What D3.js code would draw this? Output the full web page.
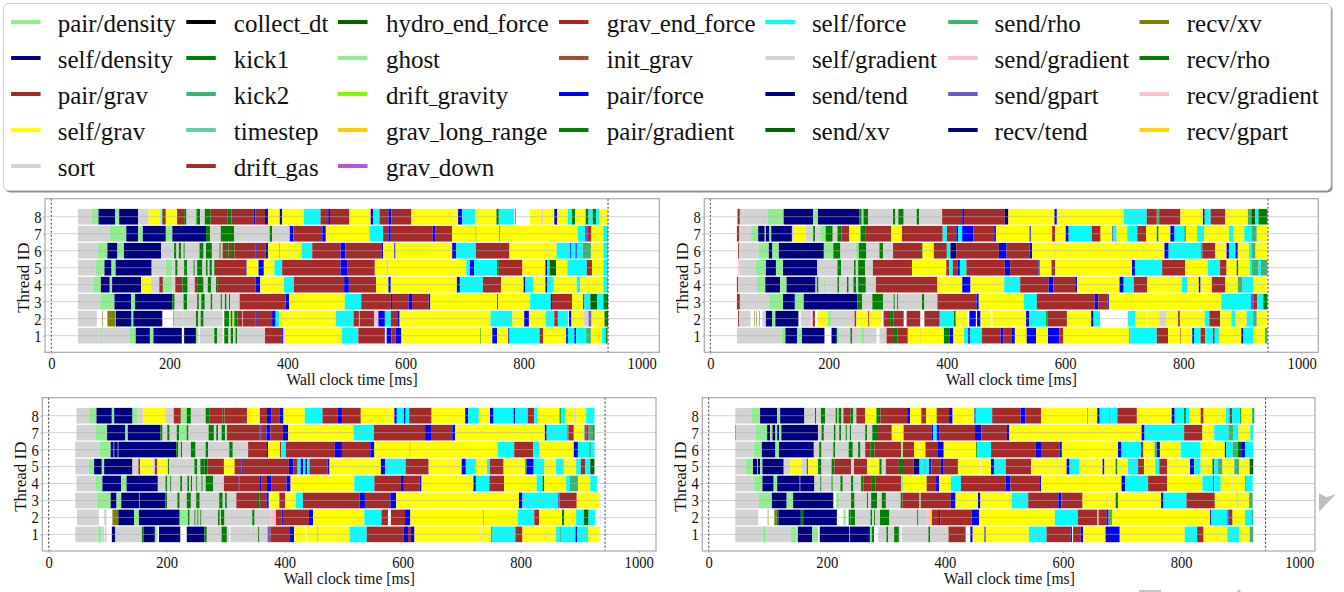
<!DOCTYPE html>
<html>
<head>
<meta charset="utf-8">
<script src="https://cdn.jsdelivr.net/npm/d3@7"></script>
<style>
  body { margin: 0; background: #fff; }
  text { font-family: "Liberation Serif", serif; fill: #111; }
</style>
</head>
<body>
<div id="chart"></div>
<script>
// legend, column by column
var taskNames = ["pair/density","self/density","pair/grav","self/grav","sort",
  "collect_dt","kick1","kick2","timestep","drift_gas",
  "hydro_end_force","ghost","drift_gravity","grav_long_range","grav_down",
  "grav_end_force","init_grav","pair/force","pair/gradient",
  "self/force","self/gradient","send/tend","send/xv",
  "send/rho","send/gradient","send/gpart","recv/tend",
  "recv/xv","recv/rho","recv/gradient","recv/gpart"];
var taskColors = ["#90ee90","#000080","#a52a2a","#ffff00","#d3d3d3",
  "#000000","#008000","#3cb371","#66cdaa","#a52a2a",
  "#006400","#90ee90","#7cfc00","#ffcc00","#ba55d3",
  "#b22222","#a0522d","#0000ff","#008000",
  "#00ffff","#d3d3d3","#000080","#006400",
  "#3cb371","#ffc0cb","#6a5acd","#000080",
  "#808000","#008000","#ffc0cb","#ffd700"];
var columnSizes = [5,5,5,4,4,4,4];

// short codes used in the thread rows below
var codes = {g:"sort",l:"pair/density",n:"self/density",t:"kick1",d:"send/xv",b:"pair/grav",y:"self/grav",
  c:"self/force",u:"pair/force",o:"recv/gpart",s:"kick2",p:"send/gradient",m:"send/gpart",k:"recv/xv"};

var threadIds = [1,2,3,4,5,6,7,8];
var xTicks = [0,200,400,600,800,1000];
var stepEnd = 943;

// each row: time, task, time, task ... last time. w = nothing running
// top left
var tl1 = [45,'g',84,'l',87,'g',132,'l',143,'n',167,'l',173,'n',221,'w',225,'n',245,'l',249,'w',252,'g',276,'t',281,'g',290,'w',292,'g',293,'t',300,'g',304,'t',308,'g',312,'t',315,'g',342,'l',344,'g',362,'b',391,'u',393,'p',396,'y',492,'c',520,'b',565,'w',568,'u',576,'b',583,'u',593,'y',727,'t',728,'y',747,'u',755,'y',774,'u',776,'c',827,'b',833,'y',872,'u',875,'c',886,'u',889,'c',906,'s',914,'y',933,'c',939,'t',942];
var tl2 = [45,'g',77,'w',86,'k',87,'w',95,'k',108,'w',109,'n',136,'l',139,'n',188,'w',207,'t',208,'g',224,'l',226,'g',245,'t',249,'g',253,'t',258,'g',290,'w',293,'t',301,'l',304,'t',307,'o',310,'t',315,'b',323,'w',324,'b',346,'u',348,'b',374,'u',380,'c',386,'y',482,'c',512,'b',521,'w',522,'b',547,'p',554,'u',565,'c',575,'b',586,'u',590,'y',744,'c',781,'y',801,'u',809,'y',837,'c',852,'b',858,'c',875,'w',877,'u',881,'y',901,'g',910,'m',915,'y',937,'t',943];
var tl3 = [45,'g',83,'l',107,'n',135,'l',142,'n',205,'t',209,'g',224,'t',230,'g',247,'t',250,'g',254,'t',260,'g',270,'t',273,'g',287,'t',289,'g',294,'t',297,'g',301,'t',303,'g',319,'b',397,'u',403,'y',497,'c',525,'b',575,'u',577,'b',605,'u',611,'b',639,'u',642,'y',755,'t',757,'y',811,'c',846,'u',848,'b',882,'y',901,'u',903,'c',913,'d',925,'c',935,'t',943];
var tl4 = [45,'g',71,'l',84,'n',99,'l',103,'n',152,'y',169,'g',183,'b',189,'l',205,'g',210,'b',222,'t',231,'g',243,'b',247,'t',258,'g',265,'t',271,'g',279,'t',282,'b',346,'u',354,'y',394,'c',411,'b',496,'u',504,'b',550,'y',571,'u',575,'y',687,'u',692,'c',731,'b',762,'y',800,'u',803,'c',816,'y',837,'u',840,'c',851,'y',890,'c',896,'y',935,'c',943];
var tl5 = [45,'g',75,'l',90,'n',102,'l',109,'n',170,'g',194,'l',205,'g',210,'t',214,'g',225,'t',230,'g',241,'t',243,'g',247,'t',256,'g',262,'t',265,'g',268,'t',272,'g',276,'t',279,'b',330,'u',331,'y',351,'u',360,'y',378,'c',391,'b',490,'u',501,'b',548,'y',568,'o',571,'y',703,'c',709,'u',716,'c',755,'t',758,'b',798,'y',837,'u',840,'c',844,'d',855,'y',874,'c',907,'b',916,'y',935,'c',943];
var tl6 = [45,'g',79,'l',95,'n',112,'l',123,'n',186,'g',208,'t',212,'g',216,'t',220,'g',224,'t',226,'g',251,'t',258,'g',262,'t',272,'g',285,'t',287,'g',290,'b',296,'t',300,'b',306,'t',310,'b',346,'u',348,'b',363,'u',367,'y',386,'k',387,'y',424,'c',442,'b',490,'u',498,'b',559,'u',562,'y',581,'u',583,'y',679,'u',686,'c',719,'b',776,'y',856,'c',879,'u',881,'c',888,'u',890,'c',900,'s',914,'y',935,'c',943];
var tl7 = [45,'g',99,'l',127,'n',147,'l',155,'n',194,'l',205,'n',262,'t',269,'g',287,'t',310,'g',370,'t',374,'g',404,'u',410,'b',459,'u',465,'y',539,'c',562,'b',571,'u',575,'b',646,'u',651,'b',679,'y',719,'t',720,'y',759,'t',760,'y',892,'c',904,'m',909,'b',915,'y',935,'c',943];
var tl8 = [45,'g',68,'l',80,'n',108,'l',115,'n',147,'g',165,'y',183,'g',188,'t',191,'b',194,'y',213,'b',225,'t',229,'g',243,'l',246,'t',252,'g',260,'t',270,'b',299,'t',305,'b',343,'u',346,'b',362,'u',367,'y',387,'u',391,'y',428,'c',456,'b',469,'u',472,'b',505,'y',541,'u',545,'c',556,'b',571,'u',576,'b',610,'y',689,'u',696,'c',718,'y',754,'t',758,'c',784,'w',786,'t',787,'w',811,'y',830,'p',833,'y',852,'u',857,'y',875,'c',882,'t',887,'y',905,'t',910,'c',917,'t',923,'c',928,'y',943];
// top right
var tr1 = [45,'g',121,'l',127,'n',147,'l',155,'n',193,'w',205,'n',214,'l',218,'g',237,'t',240,'g',254,'l',260,'g',281,'w',286,'g',298,'b',309,'t',316,'b',334,'y',355,'o',357,'y',395,'t',405,'u',411,'y',429,'c',436,'u',439,'c',459,'b',491,'u',496,'b',510,'u',515,'y',535,'u',551,'y',571,'u',590,'b',597,'y',709,'u',710,'c',755,'b',774,'y',795,'b',796,'y',815,'u',818,'c',829,'b',837,'c',850,'b',853,'c',860,'y',898,'u',901,'c',918,'y',938,'s',942];
var tr2 = [47,'b',49,'g',68,'w',74,'k',75,'w',78,'k',79,'w',83,'k',84,'w',88,'g',94,'n',105,'l',110,'n',149,'w',153,'g',171,'w',173,'b',177,'w',181,'y',199,'l',204,'g',244,'b',247,'y',267,'b',269,'y',289,'w',293,'b',304,'t',310,'b',327,'w',332,'b',355,'w',362,'b',388,'c',412,'t',415,'y',434,'w',438,'u',449,'w',451,'u',457,'y',474,'w',477,'y',534,'u',539,'c',568,'t',570,'b',603,'y',644,'u',648,'c',659,'w',706,'c',719,'y',738,'w',740,'y',759,'g',771,'y',791,'b',794,'y',836,'c',844,'b',862,'y',881,'c',888,'y',907,'c',918,'s',924,'y',942];
var tr3 = [45,'b',50,'g',99,'l',123,'n',143,'l',158,'n',249,'t',257,'g',274,'t',292,'g',310,'t',312,'g',316,'t',318,'g',358,'t',362,'g',384,'b',450,'u',454,'y',530,'c',552,'b',650,'u',656,'b',672,'u',674,'y',864,'c',914,'m',918,'b',925,'c',935,'t',942];
var tr4 = [45,'b',47,'g',79,'l',93,'n',118,'l',129,'n',178,'g',180,'t',183,'g',192,'l',195,'g',215,'t',218,'g',231,'t',234,'g',242,'t',247,'g',250,'t',263,'g',280,'b',384,'y',426,'u',440,'y',497,'c',524,'b',572,'u',580,'b',617,'u',620,'y',692,'u',699,'c',716,'b',739,'y',797,'c',807,'y',826,'u',829,'y',848,'b',871,'y',892,'s',900,'c',918,'y',941];
var tr5 = [47,'p',49,'g',77,'l',94,'n',111,'l',123,'n',181,'g',215,'t',221,'g',243,'t',246,'g',250,'t',262,'g',275,'b',341,'y',399,'b',404,'c',410,'b',418,'u',422,'c',433,'b',498,'u',507,'b',555,'u',557,'y',577,'b',583,'y',713,'u',718,'c',764,'b',803,'y',841,'c',862,'b',873,'y',890,'t',893,'y',912,'c',916,'s',927,'c',931,'s',942];
var tr6 = [47,'b',49,'g',82,'l',99,'n',105,'l',116,'n',192,'l',208,'t',220,'g',246,'l',251,'t',264,'g',286,'t',292,'g',309,'b',358,'t',359,'y',378,'b',400,'c',406,'n',416,'b',488,'u',501,'b',540,'u',544,'y',582,'o',584,'y',752,'o',753,'y',768,'u',775,'c',830,'m',832,'b',854,'y',873,'u',877,'c',888,'u',892,'y',911,'c',916,'s',922,'y',942];
var tr7 = [45,'b',49,'g',69,'l',81,'n',92,'l',94,'n',100,'l',103,'n',138,'g',142,'y',161,'g',174,'t',177,'g',186,'l',195,'t',207,'g',215,'t',222,'b',235,'y',254,'t',263,'b',306,'y',324,'b',393,'c',400,'b',416,'u',419,'c',426,'u',445,'b',480,'u',483,'y',540,'u',542,'y',578,'b',583,'y',601,'u',606,'c',645,'b',660,'y',680,'u',681,'c',687,'y',705,'c',722,'b',737,'y',755,'t',758,'y',778,'u',785,'c',802,'t',804,'y',823,'c',835,'y',877,'c',884,'y',903,'c',915,'s',924,'y',942];
var tr8 = [46,'b',50,'g',97,'l',124,'n',174,'l',182,'n',252,'t',256,'l',259,'t',267,'g',309,'t',313,'g',318,'t',327,'g',349,'t',353,'g',392,'b',426,'u',429,'b',498,'n',504,'y',582,'u',586,'y',699,'c',738,'b',755,'s',759,'b',795,'y',833,'u',836,'c',846,'b',871,'y',909,'s',915,'d',921,'c',927,'t',942];
// bottom left
var bl1 = [45,'g',83,'l',89,'g',94,'w',95,'g',98,'w',107,'n',113,'g',158,'t',161,'n',180,'l',184,'w',187,'n',223,'w',234,'n',264,'t',268,'g',293,'t',302,'g',306,'w',308,'g',340,'l',342,'g',355,'t',357,'g',371,'m',376,'b',409,'u',416,'y',435,'w',437,'y',456,'k',457,'y',510,'c',539,'b',602,'u',609,'b',614,'u',620,'y',732,'g',733,'y',750,'u',751,'c',791,'b',803,'y',860,'c',867,'t',868,'c',893,'u',896,'c',914,'y',934];
var bl2 = [48,'g',85,'w',94,'g',98,'w',108,'k',118,'n',145,'l',153,'n',222,'l',236,'t',239,'g',247,'t',249,'g',252,'t',254,'g',257,'t',259,'g',287,'t',290,'g',292,'t',298,'g',345,'t',349,'g',376,'p',385,'b',395,'u',397,'b',441,'u',448,'y',535,'c',564,'b',575,'w',580,'b',604,'u',613,'y',737,'k',738,'y',795,'c',823,'b',831,'y',870,'t',874,'y',894,'c',907,'d',915,'c',926,'w',934,'l',935];
var bl3 = [45,'g',81,'l',105,'n',115,'l',123,'n',153,'l',154,'n',198,'t',201,'g',218,'t',222,'g',234,'t',241,'g',250,'t',256,'g',289,'t',295,'g',299,'t',302,'g',318,'b',353,'t',357,'b',369,'u',373,'y',391,'b',401,'y',419,'c',431,'b',527,'u',536,'b',579,'u',589,'y',797,'u',803,'c',863,'m',866,'b',895,'y',934];
var bl4 = [47,'g',79,'l',91,'n',123,'l',132,'n',185,'g',198,'t',201,'g',206,'t',208,'g',223,'t',226,'g',235,'t',238,'g',241,'t',243,'g',250,'t',252,'g',259,'t',261,'g',266,'t',279,'g',297,'b',322,'n',323,'b',357,'u',361,'b',370,'u',377,'b',403,'u',410,'y',518,'c',552,'b',597,'u',602,'b',629,'u',632,'y',720,'u',724,'c',747,'b',772,'y',827,'c',837,'t',840,'y',877,'c',883,'s',897,'y',918,'c',929];
var bl5 = [45,'g',68,'l',77,'n',90,'l',94,'n',142,'g',152,'b',155,'y',176,'g',180,'b',184,'y',202,'t',204,'g',247,'t',252,'g',257,'t',264,'d',269,'b',297,'y',315,'b',327,'u',329,'b',407,'u',415,'b',422,'c',427,'u',431,'c',435,'u',438,'c',442,'b',473,'u',476,'y',563,'u',570,'c',605,'b',644,'y',700,'u',707,'c',724,'y',743,'c',748,'b',771,'y',808,'t',810,'u',822,'c',840,'y',860,'c',873,'y',894,'c',902,'b',909,'c',918,'d',925];
var bl6 = [45,'g',87,'l',105,'n',110,'w',111,'n',117,'w',118,'n',216,'t',220,'g',224,'t',226,'g',241,'t',249,'g',266,'t',270,'g',306,'t',312,'g',338,'b',370,'u',372,'y',392,'b',394,'c',402,'b',485,'u',497,'b',545,'u',552,'y',612,'k',613,'y',761,'c',789,'b',821,'c',832,'y',890,'u',897,'c',916,'s',919,'c',925];
var bl7 = [47,'g',79,'l',99,'n',130,'l',134,'n',189,'t',193,'g',201,'t',205,'g',217,'t',221,'l',234,'t',237,'g',271,'t',280,'g',284,'t',287,'g',293,'t',299,'g',302,'b',358,'m',360,'b',369,'u',376,'b',397,'u',406,'y',517,'c',551,'b',638,'u',648,'b',684,'u',689,'y',841,'u',844,'c',879,'m',881,'b',890,'y',908,'m',911,'b',915,'s',923,'d',925];
var bl8 = [47,'g',68,'l',81,'n',107,'l',111,'n',142,'l',151,'g',160,'y',197,'g',212,'b',224,'l',234,'t',241,'g',266,'t',272,'b',295,'t',298,'b',336,'y',356,'g',358,'b',370,'u',377,'b',391,'u',398,'y',434,'c',464,'b',490,'u',497,'b',529,'y',586,'u',590,'c',602,'u',605,'c',611,'b',649,'y',706,'u',711,'c',729,'y',748,'u',754,'c',788,'u',791,'c',812,'b',823,'c',829,'y',866,'t',868,'c',875,'y',891,'g',894,'y',911,'c',925];
// bottom right
var br1 = [45,'g',91,'l',98,'g',139,'l',149,'g',151,'n',175,'l',185,'w',188,'n',238,'w',239,'n',273,'l',276,'t',280,'w',287,'g',301,'t',304,'g',314,'t',322,'g',325,'w',327,'g',372,'t',375,'g',406,'b',435,'w',443,'u',447,'y',467,'u',469,'y',542,'c',572,'b',613,'u',615,'w',617,'b',630,'u',634,'y',672,'u',696,'y',806,'c',827,'b',838,'y',878,'c',898,'y',916,'s',922];
var br2 = [45,'g',84,'w',100,'k',101,'w',111,'k',115,'t',118,'n',156,'t',160,'n',217,'w',228,'l',232,'w',237,'t',240,'t',248,'g',274,'t',277,'g',280,'t',282,'g',290,'t',306,'g',353,'t',355,'g',370,'p',375,'o',378,'b',390,'u',392,'b',445,'u',458,'y',586,'c',625,'b',658,'w',660,'b',674,'u',677,'s',683,'y',849,'u',851,'c',878,'m',881,'b',887,'y',908,'c',919,'s',922];
var br3 = [45,'g',85,'l',107,'n',132,'l',143,'n',211,'w',216,'l',221,'g',241,'t',247,'g',268,'t',270,'g',275,'t',285,'g',293,'t',300,'g',325,'t',328,'b',357,'l',359,'b',410,'u',418,'y',456,'u',460,'y',513,'c',541,'b',592,'u',597,'b',633,'y',689,'t',693,'y',766,'u',770,'c',809,'b',857,'y',894,'l',896,'y',915,'s',921];
var br4 = [45,'g',77,'l',91,'n',110,'l',116,'n',154,'w',155,'n',179,'g',189,'t',191,'g',208,'t',210,'g',223,'t',227,'g',241,'t',245,'g',258,'t',262,'b',275,'t',282,'b',326,'l',329,'y',369,'b',385,'u',390,'y',410,'c',427,'b',503,'u',511,'b',561,'u',563,'y',699,'u',705,'c',744,'b',776,'y',836,'c',854,'b',856,'c',867,'y',887,'g',889,'y',908,'u',909,'c',921];
var br5 = [45,'g',63,'l',75,'n',82,'w',83,'n',87,'l',91,'n',127,'g',138,'y',157,'g',166,'t',168,'y',185,'t',191,'g',208,'t',213,'b',241,'g',246,'b',268,'y',289,'t',293,'g',300,'b',322,'t',329,'b',347,'n',357,'c',366,'u',367,'c',373,'u',377,'b',393,'u',398,'b',422,'y',460,'w',461,'y',478,'u',483,'c',503,'b',546,'y',606,'u',611,'c',628,'y',667,'u',670,'y',689,'t',692,'y',710,'c',727,'b',737,'y',756,'c',763,'b',776,'y',815,'u',822,'c',833,'y',853,'t',856,'c',862,'s',870,'y',890,'s',898,'y',916,'d',922];
var br6 = [45,'g',76,'l',90,'n',113,'l',119,'n',178,'g',187,'t',191,'g',211,'t',214,'g',237,'t',244,'g',253,'t',257,'g',265,'b',274,'t',281,'b',326,'l',329,'b',348,'y',367,'b',387,'u',398,'y',453,'t',455,'c',478,'b',554,'u',564,'b',594,'u',598,'y',693,'u',699,'c',732,'b',736,'y',755,'s',759,'u',764,'y',799,'c',833,'y',874,'u',876,'c',887,'s',896,'d',903,'u',908,'c',922];
var br7 = [45,'b',46,'g',79,'l',99,'n',104,'l',108,'n',113,'l',116,'n',119,'l',123,'n',185,'g',191,'t',195,'g',212,'t',215,'g',221,'t',224,'g',232,'t',234,'g',239,'t',241,'g',265,'t',268,'g',277,'t',285,'b',310,'y',330,'b',377,'u',380,'c',386,'u',390,'b',451,'u',462,'b',505,'u',509,'y',733,'u',738,'c',805,'b',836,'y',856,'c',880,'s',888,'c',897,'y',917,'c',922];
var br8 = [45,'g',72,'l',87,'n',116,'l',121,'n',162,'g',180,'t',182,'g',190,'t',197,'g',215,'t',218,'g',220,'t',225,'g',228,'b',240,'t',245,'g',250,'b',265,'y',284,'t',291,'b',336,'u',341,'y',360,'b',368,'y',386,'b',407,'u',413,'y',450,'u',452,'c',480,'b',528,'u',536,'b',563,'y',641,'b',642,'y',658,'u',662,'c',678,'t',679,'c',692,'b',725,'y',784,'u',789,'c',805,'t',808,'c',814,'y',833,'b',838,'y',876,'c',882,'b',886,'c',900,'t',902,'y',920,'s',924];

var panels = [
  {rows:[tl1,tl2,tl3,tl4,tl5,tl6,tl7,tl8], left:45, right:659.3, top:198.7, bottom:352.3, x0:51.3, x1000:641.7},
  {rows:[tr1,tr2,tr3,tr4,tr5,tr6,tr7,tr8], left:704.3, right:1318.3, top:198.7, bottom:352.3, x0:710.3, x1000:1301.7},
  {rows:[bl1,bl2,bl3,bl4,bl5,bl6,bl7,bl8], left:42.3, right:656, top:397.7, bottom:551, x0:48.7, x1000:638.7},
  {rows:[br1,br2,br3,br4,br5,br6,br7,br8], left:702.3, right:1315, top:397.7, bottom:551, x0:708.7, x1000:1299.3}
];

var svg = d3.select("#chart").append("svg")
  .attr("width", 1344)
  .attr("height", 592)
  .style("display", "block");

var colorOf = d3.scaleOrdinal().domain(taskNames).range(taskColors);

function drawLegend() {
  svg.append("rect").attr("x", 5).attr("y", 5.5).attr("width", 1327.5).attr("height", 187)
    .attr("rx", 5).attr("fill", "#8c8c8c");
  svg.append("rect").attr("x", 3.5).attr("y", 3.5).attr("width", 1327.5).attr("height", 187)
    .attr("rx", 5).attr("fill", "#fff").attr("stroke", "#d0d0d0");

  var lineX = [11.1,186.3,338,559,765.4,948.2,1139.5];
  var textX = [57.7,233.8,385.9,606.8,811.9,994.6,1186.8];
  var rowY = d3.scaleLinear().domain([0,4]).range([22,166]);
  var start = 0;
  columnSizes.forEach(function(size, col) {
    for (var r = 0; r < size; r++) {
      var name = taskNames[start + r];
      svg.append("line")
        .attr("x1", lineX[col]).attr("x2", lineX[col] + 29.5)
        .attr("y1", rowY(r)).attr("y2", rowY(r))
        .attr("stroke", colorOf(name)).attr("stroke-width", 4);
      var label = svg.append("text")
        .attr("x", textX[col]).attr("y", rowY(r) + 10)
        .style("font-size", "25px");
      // underscores are narrower in the original, like in LaTeX
      name.split(/(_)/).forEach(function(part) {
        label.append("tspan").style("font-size", part === "_" ? "17px" : null).text(part);
      });
    }
    start += size;
  });
}

function drawPanel(p) {
  // pixel position of 0 and 1000 fixes the axis domain
  var perMs = (p.x1000 - p.x0) / 1000;
  var x = d3.scaleLinear()
    .domain([(p.left - p.x0) / perMs, (p.right - p.x0) / perMs])
    .range([p.left, p.right]);
  var y = d3.scaleLinear().domain([0.02, 9.06]).range([p.bottom, p.top]);
  var g = svg.append("g");

  threadIds.forEach(function(id, i) {
    var row = p.rows[i];
    var segs = [];
    for (var k = 0; k + 2 < row.length; k += 2) {
      if (row[k + 1] !== 'w') segs.push({start: row[k], end: row[k + 2], task: codes[row[k + 1]]});
    }
    g.selectAll(null).data(segs).enter().append("rect")
      .attr("x", function(d) { return x(d.start); })
      .attr("width", function(d) { return x(d.end) - x(d.start); })
      .attr("y", y(id + 0.46))
      .attr("height", y(id - 0.46) - y(id + 0.46))
      .attr("fill", function(d) { return colorOf(d.task); });
  });

  g.selectAll(null).data(threadIds).enter().append("line")
    .attr("x1", p.left).attr("x2", p.right)
    .attr("y1", function(d) { return y(d); })
    .attr("y2", function(d) { return y(d); })
    .attr("stroke", "#b0b0b0").attr("stroke-opacity", 0.55);

  g.append("line")
    .attr("x1", x(stepEnd)).attr("x2", x(stepEnd))
    .attr("y1", p.top).attr("y2", p.bottom)
    .attr("stroke", "#333").attr("stroke-dasharray", "2,2");
  g.append("line")
    .attr("x1", x(0)).attr("x2", x(0))
    .attr("y1", p.top).attr("y2", p.bottom)
    .attr("stroke", "#333").attr("stroke-dasharray", "2,2");

  g.append("rect")
    .attr("x", p.left).attr("y", p.top)
    .attr("width", p.right - p.left).attr("height", p.bottom - p.top)
    .attr("fill", "none").attr("stroke", "#a8a8a8").attr("stroke-width", 1.2);

  var xAxis = g.append("g")
    .attr("transform", "translate(0," + p.bottom + ")")
    .call(d3.axisBottom(x).tickValues(xTicks).tickFormat(d3.format("d")).tickSize(2).tickPadding(3));
  var yAxis = g.append("g")
    .attr("transform", "translate(" + p.left + ",0)")
    .call(d3.axisLeft(y).tickValues(threadIds).tickFormat(d3.format("d")).tickSize(2).tickPadding(2));
  [xAxis, yAxis].forEach(function(a) {
    a.select(".domain").remove();
    a.selectAll(".tick line").attr("stroke", "#a8a8a8");
    a.attr("font-family", null).attr("font-size", null);
    a.selectAll("text").style("font-size", "17px").attr("transform", "scale(0.86,1)").attr("fill", "#111");
  });

  g.append("text")
    .attr("transform", "translate(" + (p.left + 307) + "," + (p.bottom + 32.5) + ") scale(0.92,1)")
    .attr("text-anchor", "middle").style("font-size", "17px")
    .text("Wall clock time [ms]");
  g.append("text")
    .attr("transform", "translate(" + (p.left - 16) + "," + (p.top + 79) + ") rotate(-90)")
    .attr("text-anchor", "middle").style("font-size", "17px")
    .text("Thread ID");
}

drawLegend();
panels.forEach(drawPanel);

// bits of the next slide showing at the edge of the screenshot
svg.append("path").attr("d", "M1319,493.3L1326.7,497.3L1336,494L1319,511.7Z").attr("fill", "#bdbdbd");
svg.append("path").attr("d", "M1139,592V590H1161V592ZM1237,592L1239,589L1241,592Z").attr("fill", "#c4c4c4");
</script>
</body>
</html>
